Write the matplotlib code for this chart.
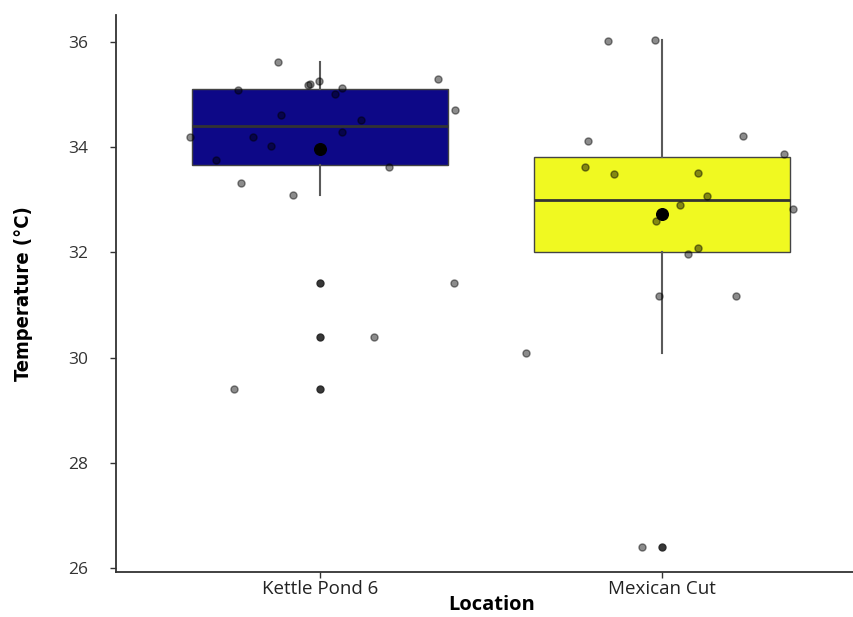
import matplotlib.pyplot as plt
import numpy as np

locations = ["Kettle Pond 6", "Mexican Cut"]
box_colors = ["#0D0887", "#F0F921"]

# water temperature readings (degC) and the horizontal jitter used for each point
kp6_temp = [35.61, 35.20, 35.18, 35.25, 35.30, 35.08, 35.02, 35.12, 34.70, 34.61, 34.51,
            34.19, 34.19, 34.29, 34.03, 33.76, 33.63, 33.31, 33.10, 31.42, 30.40, 29.41]
kp6_jitter = [-0.124, -0.029, -0.034, -0.003, 0.346, -0.240, 0.045, 0.065, 0.394, -0.115, 0.121,
              -0.380, -0.195, 0.065, -0.143, -0.303, 0.202, -0.232, -0.079, 0.393, 0.157, -0.251]

mc_temp = [36.02, 36.04, 34.12, 34.21, 33.87, 33.63, 33.49, 33.51, 33.07, 32.91, 32.82,
           32.59, 32.09, 31.97, 31.18, 31.18, 30.09, 26.40]
mc_jitter = [-0.157, -0.020, -0.217, 0.237, 0.356, -0.224, -0.140, 0.104, 0.132, 0.051, 0.384,
             -0.018, 0.104, 0.076, -0.009, 0.216, -0.398, -0.058]

temps = [kp6_temp, mc_temp]
jitters = [kp6_jitter, mc_jitter]

fig = plt.figure(figsize=(8.54, 6.17), dpi=100)
ax = fig.add_axes([116 / 854, 45 / 617, 737 / 854, 557 / 617])

bp = ax.boxplot(temps, positions=[1, 2], widths=0.75, patch_artist=True, whis=1.5,
                showcaps=False,
                medianprops=dict(color="#333333", linewidth=2),
                whiskerprops=dict(color="#5a5a5a", linewidth=1.5),
                boxprops=dict(edgecolor="#444444", linewidth=1),
                flierprops=dict(marker="o", markersize=5, markerfacecolor="#222222",
                                markeredgecolor="#222222", alpha=0.9))
for patch, c in zip(bp["boxes"], box_colors):
    patch.set_facecolor(c)

for i, (t, j) in enumerate(zip(temps, jitters)):
    xs = np.array(j) + i + 1
    ax.scatter(xs, t, s=26, color="black", alpha=0.45, linewidths=1.0,
               edgecolors="black", zorder=3)
    # group mean
    ax.scatter([i + 1], [np.mean(t)], s=70, color="black", zorder=4)

ax.set_xlim(0.4035, 2.558)
ax.set_ylim(25.924, 36.513)
ax.set_yticks([26, 28, 30, 32, 34, 36])
ax.set_xticks([1, 2])
ax.set_xticklabels(locations)

for side in ["top", "right"]:
    ax.spines[side].set_visible(False)
for side in ["left", "bottom"]:
    ax.spines[side].set_color("#333333")
    ax.spines[side].set_linewidth(1.3)

ax.tick_params(axis="y", length=4, width=1, color="#333333", pad=16,
               labelsize=12.5, labelcolor="#333333")
ax.tick_params(axis="x", length=4, width=1, color="#333333", pad=2,
               labelsize=13.5, labelcolor="#222222")
for lab in ax.get_xticklabels() + ax.get_yticklabels():
    lab.set_family(["Open Sans", "DejaVu Sans"])

ax.set_xlabel("Location", fontsize=14.5, fontweight="bold", family=["Open Sans", "DejaVu Sans"],
              va="center")
ax.xaxis.set_label_coords(0.5095, -0.06)
ax.set_ylabel("Temperature (°C)", fontsize=14.5, fontweight="bold", fontstretch="condensed",
              family=["DejaVu Sans"], va="center")
ax.yaxis.set_label_coords(-0.125, 0.5)

fig.savefig("out.png", dpi=100)
